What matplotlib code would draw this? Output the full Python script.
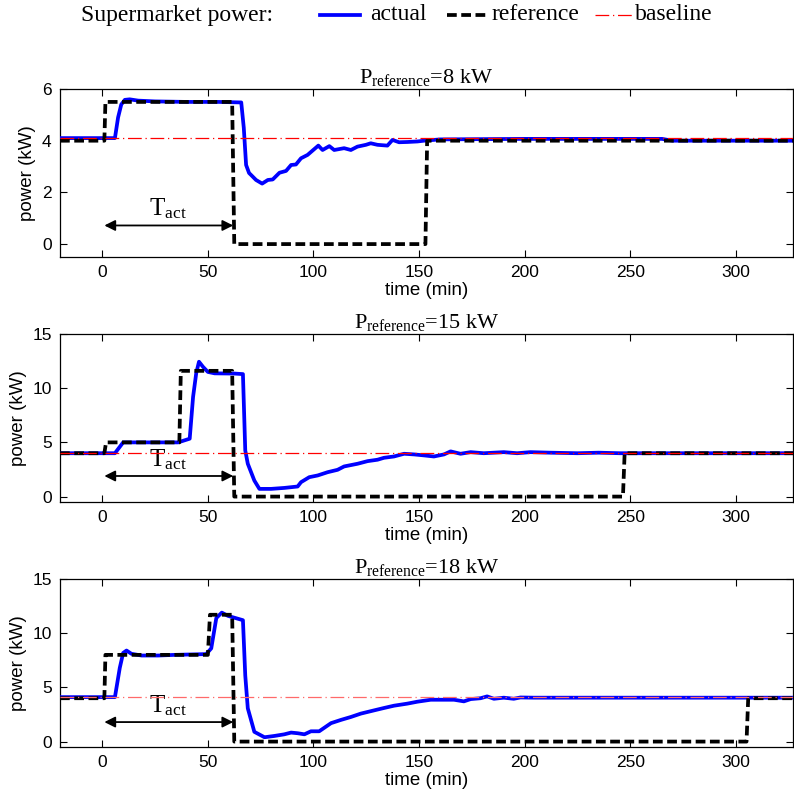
import matplotlib
matplotlib.use("Agg")
import matplotlib.pyplot as plt
from matplotlib.lines import Line2D

plt.rcParams['font.family'] = ['Liberation Sans', 'DejaVu Sans']
plt.rcParams['mathtext.fontset'] = 'custom'
plt.rcParams['mathtext.rm'] = 'Liberation Serif'
plt.rcParams['mathtext.it'] = 'Liberation Serif:italic'

# ---------------- data ----------------
titles = ["8 kW", "15 kW", "18 kW"]
baseline_levels = [4.1, 4.05, 4.1]
ylims = [(-0.5, 6), (-0.5, 15), (-0.5, 15)]
yticks_list = [[0, 2, 4, 6], [0, 5, 10, 15], [0, 5, 10, 15]]
xticks = [0, 50, 100, 150, 200, 250, 300]
xlim = (-20, 327)
arrow_y = [0.72, 1.9, 1.8]

act1_t = [-20, 6, 7.5, 9, 10.7, 13, 17, 25, 40, 55, 65.8, 67, 68.1, 69.5, 70.5, 72.8, 75.7,
          78.4, 80.7, 83.9, 87, 89.4, 91.7, 94.1, 97.2, 99.6, 102.3, 104.3, 107.5, 109.8,
          114.5, 117.7, 120.8, 124.8, 127.1, 130.3, 135, 137.4, 140.5, 144.5, 149.2, 152.3,
          160, 200, 265, 270, 327]
act1_v = [4.1, 4.1, 4.9, 5.4, 5.58, 5.6, 5.55, 5.52, 5.5, 5.5, 5.48, 4.5, 3.06, 2.75, 2.67,
          2.48, 2.34, 2.48, 2.5, 2.76, 2.83, 3.06, 3.08, 3.32, 3.45, 3.62, 3.81, 3.64, 3.79,
          3.64, 3.71, 3.64, 3.77, 3.84, 3.9, 3.84, 3.81, 4.03, 3.94, 3.95, 3.97, 4.0, 4.05,
          4.07, 4.07, 4.0, 4.0]

act2_t = [-20, 6, 9.9, 20, 35.9, 41.4, 43, 44.5, 45.8, 47.7, 50, 53.2, 62.6, 66.6, 67.7,
          68.9, 72, 74.4, 79.9, 86.2, 92.5, 94.1, 98, 102, 106.7, 111.4, 114.5, 120.9, 125.6,
          130.3, 133.4, 138.1, 142.9, 147.6, 152.3, 157, 161.8, 164.9, 169.6, 174.4, 180.6,
          190.1, 196.4, 202.7, 212, 225, 235, 245, 327]
act2_v = [4.0, 4.0, 5.0, 5.0, 5.0, 5.34, 9.2, 11.4, 12.44, 11.97, 11.5, 11.37, 11.35, 11.3,
          4.26, 3.03, 1.48, 0.71, 0.71, 0.8, 0.93, 1.33, 1.79, 1.95, 2.25, 2.47, 2.78, 3.03,
          3.27, 3.4, 3.58, 3.7, 3.95, 3.89, 3.8, 3.7, 3.89, 4.17, 3.95, 4.1, 4.0, 4.1, 4.0,
          4.1, 4.05, 4.0, 4.05, 4.0, 4.0]

act3_t = [-20, 6, 8.3, 9.9, 11.5, 13.8, 18.6, 26.4, 34.3, 49.2, 51.6, 54, 56.6, 59.5, 66.6,
          67.7, 68.9, 72, 76.8, 81.5, 86.2, 89.4, 92.5, 95.7, 98.8, 102.7, 108.3, 113, 117.7,
          122.4, 128.7, 133.4, 138.1, 144.4, 149.2, 155.5, 161.8, 166.5, 171.2, 174.4, 179.1,
          182.2, 185.4, 190.1, 194.8, 198, 204.3, 212, 327]
act3_v = [4.1, 4.1, 6.8, 8.18, 8.4, 8.1, 7.94, 7.94, 8.0, 8.07, 8.6, 11.4, 11.9, 11.6, 11.2,
          6.1, 3.07, 0.9, 0.4, 0.52, 0.67, 0.83, 0.77, 0.67, 0.95, 0.95, 1.7, 2.0, 2.27, 2.58,
          2.88, 3.1, 3.31, 3.5, 3.68, 3.86, 3.86, 3.86, 3.71, 3.92, 4.0, 4.17, 3.95, 4.05,
          3.95, 4.07, 4.05, 4.05, 4.05]

ref1_t = [-20, 1, 1.5, 61.5, 62.5, 153, 153.8, 327]
ref1_v = [4.0, 4.0, 5.5, 5.5, 0.0, 0.0, 4.0, 4.0]
ref2_t = [-20, 1, 1.8, 36.5, 37.2, 61.5, 62.5, 246.5, 247.3, 327]
ref2_v = [4.0, 4.0, 5.0, 5.0, 11.6, 11.6, 0.0, 0.0, 4.0, 4.0]
ref3_t = [-20, 1, 1.5, 50, 51, 61.5, 62.5, 305, 305.8, 327]
ref3_v = [4.0, 4.0, 8.0, 8.0, 11.7, 11.7, 0.0, 0.0, 4.0, 4.0]

actual = [(act1_t, act1_v), (act2_t, act2_v), (act3_t, act3_v)]
reference = [(ref1_t, ref1_v), (ref2_t, ref2_v), (ref3_t, ref3_v)]
baseline_colors = ['#ff0000', '#ff0000', '#ff6a6a']

# ---------------- figure ----------------
fig = plt.figure(figsize=(7.94, 8.0), dpi=100)
W, H = 794, 800
left, right = 60, 793
tops = [89, 334, 579]
h = 168

blue = '#0000ff'
ref_style = dict(color='k', lw=2.7, linestyle=(0, (2.6, 1.2)))
base_ls = (0, (11, 3, 1, 3))

for i in range(3):
    ax = fig.add_axes([left / W, 1 - (tops[i] + h) / H, (right - left) / W, h / H])
    t, v = actual[i]
    ax.plot(t, v, color=blue, lw=2.7, zorder=3)
    rt, rv = reference[i]
    ax.plot(rt, rv, zorder=4, **ref_style)
    ax.axhline(baseline_levels[i], color=baseline_colors[i], lw=0.9, linestyle=base_ls, zorder=5)
    ax.set_xlim(*xlim)
    ax.set_ylim(*ylims[i])
    ax.set_xticks(xticks)
    ax.set_yticks(yticks_list[i])
    ax.tick_params(direction='in', top=True, right=True, length=5, width=0.8,
                   labelsize=12.5, pad=6)
    for s in ax.spines.values():
        s.set_linewidth(0.9)
    ax.set_xlabel('time (min)', fontsize=13.5, labelpad=1)
    ax.set_ylabel('power (kW)', fontsize=13.5, labelpad=4)
    ax.set_title(r'$\mathrm{P}_{\mathrm{reference}}$=' + titles[i],
                 fontsize=16, family='Liberation Serif', pad=4)
    ax.annotate('', xy=(1, arrow_y[i]), xytext=(62, arrow_y[i]),
                arrowprops=dict(arrowstyle='<|-|>', color='k', lw=1.3,
                                mutation_scale=16, shrinkA=0, shrinkB=0), zorder=6)
    ax.annotate(r'T$_{\mathrm{act}}$', xy=(31, arrow_y[i]), xytext=(0, 3),
                textcoords='offset points', ha='center', va='bottom',
                fontsize=18, family='Liberation Serif')

# ---------------- legend row ----------------
ly = 1 - 15 / H
fig.text(81 / W, ly, 'Supermarket power:', fontsize=17, family='Liberation Serif',
         ha='left', va='center')
fig.add_artist(Line2D([320 / W, 360 / W], [ly, ly], color=blue, lw=2.7))
fig.text(370 / W, ly, 'actual', fontsize=17, family='Liberation Serif', ha='left', va='center')
fig.add_artist(Line2D([447 / W, 486 / W], [ly, ly], **ref_style))
fig.text(492 / W, ly, 'reference', fontsize=17, family='Liberation Serif', ha='left', va='center')
fig.add_artist(Line2D([595 / W, 633 / W], [ly, ly], color='#ff0000', lw=0.9, linestyle=base_ls))
fig.text(635 / W, ly, 'baseline', fontsize=17, family='Liberation Serif', ha='left', va='center')

fig.savefig('out.png', dpi=100)
